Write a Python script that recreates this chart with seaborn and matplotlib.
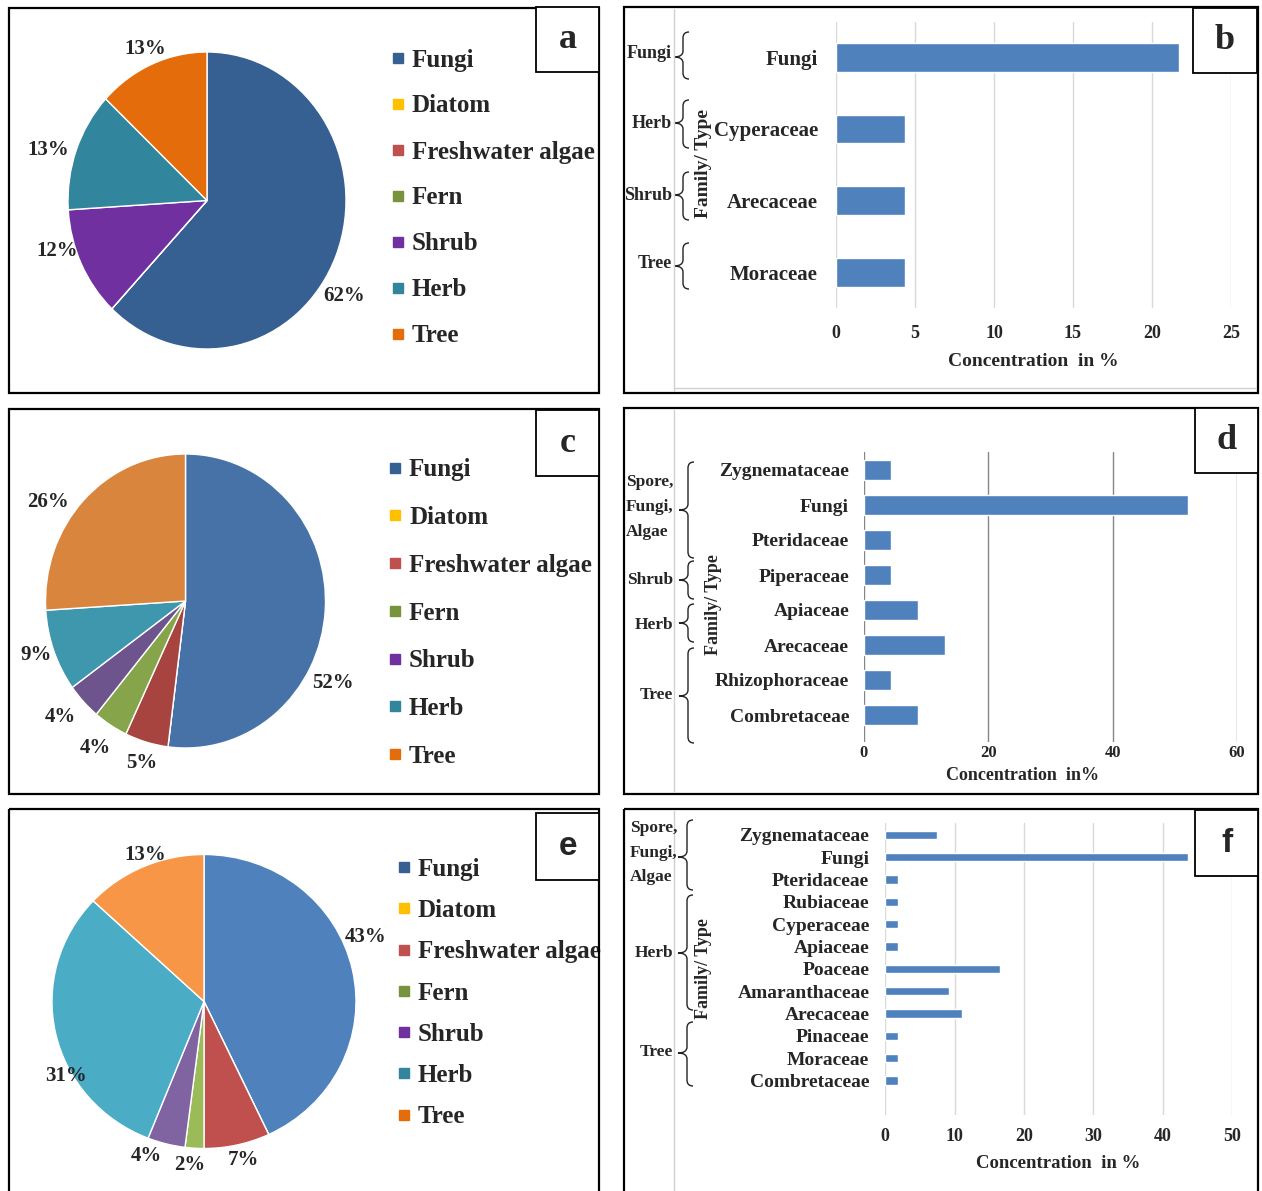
import matplotlib
matplotlib.use("Agg")
import matplotlib.pyplot as plt
from matplotlib.patches import Rectangle, PathPatch
from matplotlib.path import Path
from matplotlib.lines import Line2D
from matplotlib.transforms import Affine2D
import seaborn as sns

# ---- data ----
groups = ["Fungi", "Diatom", "Freshwater algae", "Fern", "Shrub", "Herb", "Tree"]
pie_a = [62, 0, 0, 0, 12, 13, 13]
pie_c = [52, 0, 5, 4, 4, 9, 26]
pie_e = [43, 0, 7, 2, 4, 31, 13]

fam_b = ["Fungi", "Cyperaceae", "Arecaceae", "Moraceae"]
conc_b = [21.7, 4.35, 4.35, 4.35]
type_b = ["Fungi", "Herb", "Shrub", "Tree"]

fam_d = ["Zygnemataceae", "Fungi", "Pteridaceae", "Piperaceae", "Apiaceae",
         "Arecaceae", "Rhizophoraceae", "Combretaceae"]
conc_d = [4.35, 52.2, 4.35, 4.35, 8.7, 13.0, 4.35, 8.7]
type_d = ["Spore,\nFungi,\nAlgae", "Shrub", "Herb", "Tree"]

fam_f = ["Zygnemataceae", "Fungi", "Pteridaceae", "Rubiaceae", "Cyperaceae", "Apiaceae",
         "Poaceae", "Amaranthaceae", "Arecaceae", "Pinaceae", "Moraceae", "Combretaceae"]
conc_f = [7.4, 43.7, 1.85, 1.85, 1.85, 1.85, 16.5, 9.2, 11.0, 1.85, 1.85, 1.85]
type_f = ["Spore,\nFungi,\nAlgae", "Herb", "Tree"]

# ---- colours ----
legend_cols = ["#376092", "#FFC000", "#C0504D", "#77933C", "#7030A0", "#31859C", "#E46C0A"]
cols_a = ["#376092", "#FFC000", "#C0504D", "#77933C", "#7030A0", "#31859C", "#E46C0A"]
cols_c = ["#4672A8", "#FFC000", "#A7443F", "#86A44A", "#6E548D", "#3F97AE", "#DA853E"]
cols_e = ["#4F81BD", "#FFC000", "#C0504D", "#9BBB59", "#8064A2", "#4BACC6", "#F79646"]
bar_col = "#4F81BD"

sns.set_style("white")
plt.rcParams["font.family"] = ["Liberation Serif", "DejaVu Serif"]
plt.rcParams["font.weight"] = "bold"

W, H = 1262, 1191
fig = plt.figure(figsize=(W / 100, H / 100), dpi=100)
T = Affine2D().scale(1 / W, -1 / H).translate(0, 1) + fig.transFigure


def add_ax(x0, y0, x1, y1):
    return fig.add_axes([x0 / W, 1 - y1 / H, (x1 - x0) / W, (y1 - y0) / H])


def frame(x0, y0, x1, y1, lw=1.6, fc="none", z=1):
    fig.add_artist(Rectangle((x0, y0), x1 - x0, y1 - y0, transform=T, fill=(fc != "none"),
                             facecolor=fc, edgecolor="black", lw=lw, zorder=z))


def letter(box, s, fam="Liberation Serif", fs=26):
    x0, y0, x1, y1 = box
    frame(x0, y0, x1, y1, lw=1.3, fc="white", z=5)
    t = fig.text((x0 + x1) / 2, (y0 + y1) / 2, s, transform=T, ha="center", va="center",
                 fontsize=fs, family=fam, fontweight="bold")
    t.set_zorder(6)


def brace(x, y0, y1, ym, w=6):
    verts = [(x + w, y0), (x, y0), (x, y0 + w), (x, ym - w), (x, ym), (x - w - 3, ym),
             (x, ym), (x, ym + w), (x, y1 - w), (x, y1), (x + w, y1)]
    codes = [Path.MOVETO, Path.CURVE3, Path.CURVE3, Path.LINETO, Path.CURVE3, Path.CURVE3,
             Path.CURVE3, Path.CURVE3, Path.LINETO, Path.CURVE3, Path.CURVE3]
    fig.add_artist(PathPatch(Path(verts, codes), transform=T, fill=False, lw=1.0, ec="#222222"))


def gray_line(xs, ys):
    fig.add_artist(Line2D(xs, ys, transform=T, color="#D0D0D0", lw=1))


def draw_pie(vals, cols, cx, cy, rx, ry, lab_pos, leg_x, leg_y, spacing):
    ax = add_ax(cx - rx, cy - ry, cx + rx, cy + ry)
    ax.pie(vals, colors=cols, startangle=90, counterclock=False, radius=1,
           wedgeprops=dict(edgecolor="white", linewidth=1))
    ax.set_xlim(-1, 1)
    ax.set_ylim(-1, 1)
    ax.set_aspect("auto")
    ax.axis("off")
    labels = [f"{v}%" for v in vals if v > 0]
    for s, (x, y) in zip(labels, lab_pos):
        fig.text(x, y, s, transform=T, ha="center", va="center", fontsize=15)
    handles = [Line2D([], [], ls="none", marker="s", markersize=6.5, color=c) for c in legend_cols]
    ax.legend(handles, groups, loc="center left", bbox_to_anchor=(leg_x, leg_y), bbox_transform=T,
              frameon=False, borderpad=0, borderaxespad=0, handlelength=0.4, handletextpad=0.36,
              labelspacing=spacing, prop=dict(family="Liberation Serif", weight="bold", size=18))


def draw_bars(cats, vals, x0, x1, y_top, y_bot, y_first, dy, xmax, step, width, grid_col,
              cat_fs, cat_pad, tick_fs, tick_pad, xlabel, xl_pos, xl_fs):
    ax = add_ax(x0, y_top, x1, y_bot)
    sns.barplot(x=vals, y=cats, orient="h", color=bar_col, saturation=1, width=width, ax=ax)
    n = len(cats)
    y_last = y_first + (n - 1) * dy
    ax.set_ylim(n - 1 + (y_bot - y_last) / dy, -(y_first - y_top) / dy)
    ax.set_xlim(0, xmax)
    ax.set_xticks(range(0, xmax + 1, step))
    ax.grid(axis="x", color=grid_col, lw=1)
    ax.grid(axis="y", visible=False)
    ax.set_axisbelow(True)
    for sp in ax.spines.values():
        sp.set_visible(False)
    ax.tick_params(axis="y", length=0, pad=cat_pad, labelsize=cat_fs)
    ax.tick_params(axis="x", length=0, pad=tick_pad, labelsize=tick_fs)
    ax.set_xlabel(xlabel, fontsize=xl_fs, fontweight="bold")
    ax.xaxis.set_label_coords(xl_pos[0], xl_pos[1], transform=T)
    ax.xaxis.label.set_va("center")
    ax.set_ylabel("")
    return ax


# ---- panel frames ----
frame(9, 8, 599, 393)
frame(624, 7, 1258, 393)
frame(9, 409, 599, 794)
frame(624, 408, 1258, 794)
frame(9, 809, 599, 1196)
frame(624, 809, 1258, 1196)
for y0, y1 in [(9, 391), (410, 792), (811, 1190)]:
    gray_line([674, 674], [y0, y1])
gray_line([674, 1256], [388, 388])

# ---- pies ----
draw_pie(pie_a, cols_a, 207, 200.5, 139, 148.5,
         [(344, 296), (57, 251), (48, 150), (145, 49.5)], 393, 198, 0.92)
draw_pie(pie_c, cols_c, 185.5, 601, 140, 147,
         [(333, 683.5), (142, 762.5), (95, 748), (60.5, 716.7), (36, 655), (48, 501.7)],
         390, 613, 0.99)
draw_pie(pie_e, cols_e, 204, 1001.5, 152, 147,
         [(366, 937), (243, 1160), (190, 1165), (146.5, 1155.7), (65.5, 1076), (145, 854.5)],
         399, 993, 0.73)

# ---- bars ----
draw_bars(fam_b, conc_b, 836, 1231, 22, 308, 57.2, 71.7, 25, 5, 0.4, "#D9D9D9",
          15, 13, 13, 12, "Concentration  in %", (1033, 361), 14)
draw_bars(fam_d, conc_d, 863.7, 1237, 452, 742, 470, 35, 60, 20, 0.56, "#868686",
          14, 10.5, 12, 2, "Concentration  in%", (1023, 775), 13)
draw_bars(fam_f, conc_f, 885.3, 1232, 823, 1115, 834.7, 22.35, 50, 10, 0.37, "#D9D9D9",
          14, 11.5, 13, 9.5, "Concentration  in %", (1058, 1163), 13.5)

# ---- group labels and braces ----
for s, y in zip(type_b, [53, 123, 196, 264]):
    fig.text(672, y, s, transform=T, ha="right", va="center", fontsize=13)
for y0, y1, ym in [(32, 79, 57), (100, 148, 123), (172, 220, 195), (243, 289, 266)]:
    brace(683, y0, y1, ym)
fig.text(703, 164, "Family/ Type", transform=T, rotation=90, ha="center", va="center", fontsize=14)

d_pos = [(626, [482, 507, 532]), (673, 580), (673, 625), (673, 695)]
for s, (x, y) in zip(type_d, d_pos):
    if "\n" in s:
        for line, yy in zip(s.split("\n"), y):
            fig.text(x, yy, line, transform=T, ha="left", va="center", fontsize=12.5)
    else:
        fig.text(x, y, s, transform=T, ha="right", va="center", fontsize=12.5)
for y0, y1, ym in [(462, 558, 510), (561, 599, 580), (604, 642, 623), (648, 743, 696)]:
    brace(688, y0, y1, ym)
fig.text(714, 605, "Family/ Type", transform=T, rotation=90, ha="center", va="center", fontsize=13)

f_pos = [(630, [828, 853, 877]), (673, 953), (673, 1052)]
for s, (x, y) in zip(type_f, f_pos):
    if "\n" in s:
        for line, yy in zip(s.split("\n"), y):
            fig.text(x, yy, line, transform=T, ha="left", va="center", fontsize=12.5)
    else:
        fig.text(x, y, s, transform=T, ha="right", va="center", fontsize=12.5)
for y0, y1, ym in [(820, 890, 857), (895, 1010, 953), (1022, 1086, 1053)]:
    brace(687, y0, y1, ym)
fig.text(704, 969, "Family/ Type", transform=T, rotation=90, ha="center", va="center", fontsize=13)

# ---- panel letters ----
letter((536, 7, 599, 72), "a")
letter((1193, 8, 1257, 73), "b")
letter((536, 410, 599, 476), "c")
letter((1195, 408, 1258, 473), "d")
letter((536, 813, 599, 880), "e", fam="Liberation Sans", fs=24)
letter((1195, 810, 1258, 876), "f", fam="Liberation Sans", fs=24)

fig.savefig("out.png", dpi=100)
